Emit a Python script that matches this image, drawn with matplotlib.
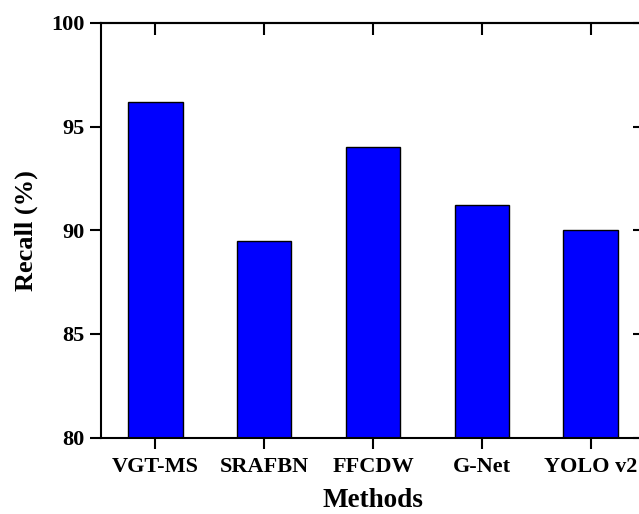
import numpy as np
import matplotlib.pyplot as plt

methods = ["VGT-MS", "SRAFBN", "FFCDW", "G-Net", "YOLO v2"]
recall = [96.2, 89.5, 94.0, 91.2, 90.0]
yticks = [80, 85, 90, 95, 100]

plt.rcParams.update({"font.family": "Liberation Serif", "font.weight": "bold",
                     "axes.linewidth": 1.5})

fig = plt.figure(figsize=(6.39, 5.14), dpi=100)
ax = fig.add_axes([101 / 639, 76.5 / 514, 544 / 639, 414.5 / 514])

x = np.arange(len(methods))
ax.bar(x, recall, 0.5, color="#0000FF", edgecolor="black", linewidth=1.0)
ax.set_xlim(-0.5, 4.5)
ax.set_ylim(80, 100)
ax.set_yticks(yticks)
ax.set_xticks(x, labels=methods)

ax.tick_params(axis="both", which="major", labelsize=16, width=1.5, length=8)
ax.tick_params(axis="x", direction="out", top=False, pad=6)
ax.tick_params(axis="y", direction="out", right=False, pad=4)
# mirrored ticks on top/right point inward
sec_x = ax.secondary_xaxis("top")
sec_x.set_xticks(x, labels=[])
sec_x.tick_params(direction="in", width=1.5, length=8.5)
sec_y = ax.secondary_yaxis("right")
sec_y.set_yticks(yticks, labels=[])
sec_y.tick_params(direction="in", width=1.5, length=8.5)
for sp in list(sec_x.spines.values()) + list(sec_y.spines.values()):
    sp.set_linewidth(1.5)

for lab in ax.get_xticklabels() + ax.get_yticklabels():
    lab.set_fontweight("bold")

ax.set_xlabel("Methods", fontsize=19.5, fontweight="bold", labelpad=8)
ax.set_ylabel("Recall (%)", fontsize=19, fontweight="bold", labelpad=9)

fig.savefig("out.png", dpi=100)
